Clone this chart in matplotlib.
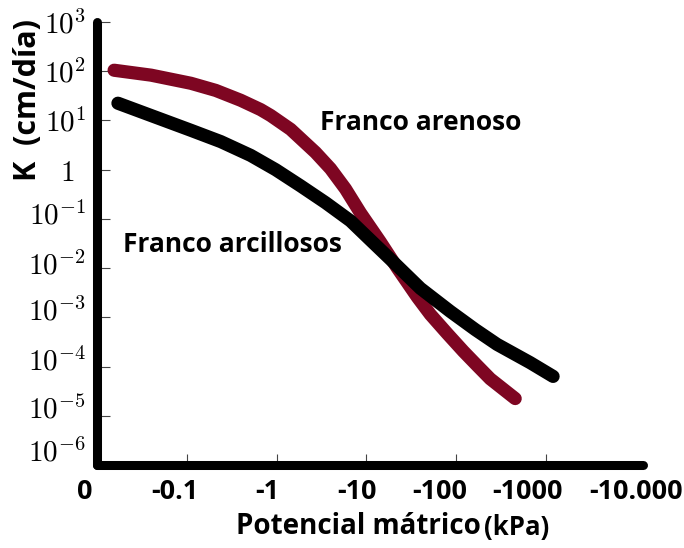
import matplotlib
matplotlib.use("Agg")
import matplotlib.pyplot as plt
import matplotlib.transforms as mtransforms
from matplotlib.ticker import NullLocator
import numpy as np

plt.rcParams['mathtext.fontset'] = 'cm'
plt.rcParams['font.family'] = ['Open Sans', 'DejaVu Sans']

# potencial mátrico (kPa, valor absoluto) y conductividad K (log10 cm/día)
arenoso_kpa = [0.0155, 0.04, 0.111, 0.21, 0.398, 0.664, 0.858, 1.43, 2.71, 3.98, 5.84, 8.58,
               14.3, 22.1, 36.9, 51.4, 79.4, 120, 171, 239, 453]
arenoso_logk = [2.02, 1.92, 1.755, 1.61, 1.41, 1.22, 1.10, 0.82, 0.35, 0.02, -0.39, -0.88,
                -1.47, -2.00, -2.59, -2.94, -3.33, -3.69, -3.98, -4.25, -4.65]

arcilloso_kpa = [0.0171, 0.04, 0.111, 0.239, 0.514, 0.975, 1.85, 3.50, 6.64, 11.07, 18.5,
                 39.8, 85.8, 163, 285, 664, 1197]
arcilloso_logk = [1.35, 1.10, 0.80, 0.57, 0.29, 0.0, -0.33, -0.67, -1.04, -1.43, -1.82,
                  -2.41, -2.88, -3.25, -3.55, -3.92, -4.20]

x_ticks = [0.01, 0.1, 1, 10, 100, 1000, 10000]
x_labels = ['0', '-0.1', '-1', '-10', '-100', '-1000', '-10.000']
y_exps = [-6, -5, -4, -3, -2, -1, 0, 1, 2, 3]

red = '#7e0622'

fig = plt.figure(figsize=(6.84, 5.48), dpi=100)
ax = fig.add_axes([97 / 684, (548 - 465) / 548, (643 - 97) / 684, (465 - 22) / 548])

ax.plot(arenoso_kpa, 10 ** np.array(arenoso_logk), color=red, lw=9.5,
        solid_capstyle='round', solid_joinstyle='round', zorder=3)
ax.plot(arcilloso_kpa, 10 ** np.array(arcilloso_logk), color='black', lw=9.5,
        solid_capstyle='round', solid_joinstyle='round', zorder=4)

ax.set_xscale('log')
ax.set_yscale('log')
ax.set_xlim(0.01, 12000)
ax.set_ylim(1e-6, 1e3)

for s in ['top', 'right']:
    ax.spines[s].set_visible(False)
for s in ['left', 'bottom']:
    ax.spines[s].set_linewidth(6.5)
    ax.spines[s].set_capstyle('round')

# eje x: etiquetas algo desplazadas respecto a las marcas, como en el original
ax.set_xticks(x_ticks)
ax.set_xticklabels(x_labels, fontsize=19.5, fontweight='bold')
ax.xaxis.set_minor_locator(NullLocator())
ax.tick_params(axis='x', direction='in', length=8, width=0.8, color='#444444', pad=10)
ax.xaxis.get_major_ticks()[-1].tick1line.set_visible(False)
ax.xaxis.get_major_ticks()[0].tick1line.set_visible(False)
x_shift = [-12, -12, -9, -9, -17, -19, 0]
for lab, dx in zip(ax.get_xticklabels(), x_shift):
    lab.set_transform(lab.get_transform() +
                      mtransforms.ScaledTranslation(dx / 100, 0, fig.dpi_scale_trans))

# eje y
ax.set_yticks([10.0 ** e for e in y_exps])
ax.set_yticklabels(['$1$' if e == 0 else '$10^{%d}$' % e for e in y_exps], fontsize=21)
ax.yaxis.set_minor_locator(NullLocator())
ax.tick_params(axis='y', direction='in', length=9, width=0.8, color='#444444', pad=8)
y_shift = {-6: (0, 15), -5: (0, 8), -4: (0, 7), -3: (0, 8), -2: (0, 5), -1: (0, 5),
           0: (-12, 0), 1: (0, 0), 2: (0, 0), 3: (0, 0)}
for lab, e in zip(ax.get_yticklabels(), y_exps):
    dx, dy = y_shift[e]
    lab.set_transform(lab.get_transform() +
                      mtransforms.ScaledTranslation(dx / 100, dy / 100, fig.dpi_scale_trans))

fig.text(421 / 684, 1 - 122 / 548, 'Franco arenoso', fontsize=19, fontweight='bold',
         ha='center', va='center')
fig.text(232 / 684, 1 - 245 / 548, 'Franco arcillosos', fontsize=19, fontweight='bold',
         ha='center', va='center')

fig.text(28 / 684, 1 - 100 / 548, 'K  (cm/día)', fontsize=22, fontweight='bold',
         rotation=90, ha='center', va='center')
fig.text(481 / 684, 1 - 527 / 548, 'Potencial mátrico', fontsize=20,
         fontweight='bold', ha='right', va='center')
fig.text(484 / 684, 1 - 527 / 548, '(kPa)', fontsize=18.5,
         fontweight='bold', ha='left', va='center')

fig.savefig('out.png', dpi=100)
